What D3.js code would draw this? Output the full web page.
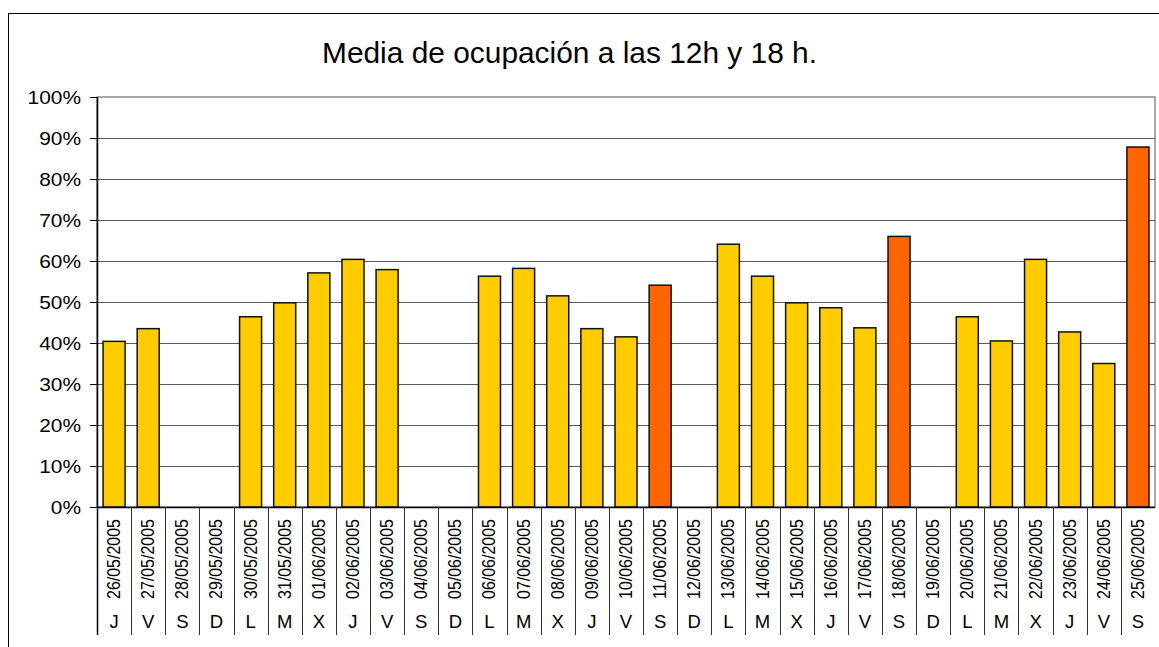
<!DOCTYPE html>
<html>
<head>
<meta charset="utf-8">
<script src="https://cdn.jsdelivr.net/npm/d3@7"></script>
<style>
  body { margin: 0; background: #fff; }
  text { font-family: "Liberation Sans", Arial, sans-serif; fill: #000; }
</style>
</head>
<body>
<div id="chart"></div>
<script>
// data
var dates = ["26/05/2005","27/05/2005","28/05/2005","29/05/2005","30/05/2005","31/05/2005",
             "01/06/2005","02/06/2005","03/06/2005","04/06/2005","05/06/2005","06/06/2005",
             "07/06/2005","08/06/2005","09/06/2005","10/06/2005","11/06/2005","12/06/2005",
             "13/06/2005","14/06/2005","15/06/2005","16/06/2005","17/06/2005","18/06/2005",
             "19/06/2005","20/06/2005","21/06/2005","22/06/2005","23/06/2005","24/06/2005",
             "25/06/2005"];
var days = ["J","V","S","D","L","M","X","J","V","S","D","L","M","X","J","V","S","D",
            "L","M","X","J","V","S","D","L","M","X","J","V","S"];
var ocupacion = [0.404, 0.435, null, null, 0.464, 0.498, 0.571, 0.604, 0.579, null, null,
                 0.563, 0.582, 0.515, 0.435, 0.415, 0.541, null, 0.641, 0.563, 0.498,
                 0.486, 0.437, 0.660, null, 0.464, 0.405, 0.604, 0.427, 0.350, 0.878];
var yTicks = [0, 0.1, 0.2, 0.3, 0.4, 0.5, 0.6, 0.7, 0.8, 0.9, 1];
var title = "Media de ocupación a las 12h y 18 h.";

function init()
{
  var w = 1159;
  var h = 647;

  var left = 97, right = 1155, top = 97, bottom = 507;

  var svg = d3.select("#chart")
              .append("svg")
              .attr("width", w)
              .attr("height", h);

  // outer chart frame (runs off the right and bottom edges)
  svg.append("rect")
      .attr("x", 8.5).attr("y", 13.5)
      .attr("width", 1200).attr("height", 700)
      .attr("fill", "none").attr("stroke", "#000").attr("stroke-width", 1);

  svg.append("text")
      .attr("x", 569.5).attr("y", 63)
      .attr("text-anchor", "middle")
      .attr("font-size", 29)
      .attr("textLength", 495)
      .attr("lengthAdjust", "spacingAndGlyphs")
      .text(title);

  var x = d3.scaleBand()
      .domain(d3.range(dates.length))
      .range([left, right])
      .paddingInner(0.355)
      .paddingOuter(0.1775);

  var cell = d3.scaleBand()
      .domain(d3.range(dates.length))
      .range([left, right]);

  var y = d3.scaleLinear().domain([0, 1]).range([bottom, top]);

  // plot area
  svg.append("rect")
      .attr("x", left).attr("y", top)
      .attr("width", right - left).attr("height", bottom - top)
      .attr("fill", "#fff").attr("stroke", "#8c8c8c").attr("stroke-width", 1.5);

  // gridlines
  svg.selectAll("line.grid")
      .data(yTicks.slice(1, -1))
      .enter()
      .append("line")
      .attr("class", "grid")
      .attr("x1", left).attr("x2", right)
      .attr("y1", function(d){ return Math.round(y(d)) + 0.5; })
      .attr("y2", function(d){ return Math.round(y(d)) + 0.5; })
      .attr("stroke", "#5a5a5a").attr("stroke-width", 1);

  // bars
  var withValue = d3.range(dates.length).filter(function(i){ return ocupacion[i] != null; });
  svg.selectAll("rect.bar")
      .data(withValue)
      .enter()
      .append("rect")
      .attr("class", "bar")
      .attr("x", function(i){ return x(i); })
      .attr("y", function(i){ return y(ocupacion[i]); })
      .attr("width", x.bandwidth())
      .attr("height", function(i){ return y(0) - y(ocupacion[i]); })
      .attr("fill", function(i){
        if(days[i] == "S")
        {
          return "#ff6600";
        }else{
          return "#ffcc00";
        }
      })
      .attr("stroke", "#111").attr("stroke-width", 1.5);

  // y axis
  var yAxis = d3.axisLeft(y)
      .tickValues(yTicks)
      .tickFormat(d3.format(".0%"))
      .tickSize(7)
      .tickPadding(9);

  var ya = svg.append("g")
      .attr("transform", "translate(" + left + ",0)")
      .call(yAxis);
  ya.select(".domain").remove();
  ya.selectAll(".tick line").attr("stroke", "#000");
  ya.selectAll(".tick text")
      .attr("font-size", 19)
      .attr("font-family", "Liberation Sans, Arial, sans-serif")
      .attr("fill", "#000")
      .each(function(){
        var t = d3.select(this);
        t.attr("textLength", this.getComputedTextLength() * 1.1)
         .attr("lengthAdjust", "spacingAndGlyphs");
      });

  svg.append("line")
      .attr("x1", left + 0.5).attr("x2", left + 0.5)
      .attr("y1", top).attr("y2", 635)
      .attr("stroke", "#000").attr("stroke-width", 1.5);

  svg.append("line")
      .attr("x1", left).attr("x2", right)
      .attr("y1", bottom + 0.5).attr("y2", bottom + 0.5)
      .attr("stroke", "#000").attr("stroke-width", 1.5);

  // category separators below the axis
  svg.selectAll("line.sep")
      .data(d3.range(1, dates.length))
      .enter()
      .append("line")
      .attr("class", "sep")
      .attr("x1", function(i){ return Math.round(cell(i)) + 0.5; })
      .attr("x2", function(i){ return Math.round(cell(i)) + 0.5; })
      .attr("y1", bottom).attr("y2", 635)
      .attr("stroke", "#333").attr("stroke-width", 1);

  // date labels, rotated
  svg.selectAll("text.date")
      .data(dates)
      .enter()
      .append("text")
      .attr("class", "date")
      .attr("text-anchor", "middle")
      .attr("font-size", 18)
      .attr("textLength", 80)
      .attr("lengthAdjust", "spacingAndGlyphs")
      .attr("transform", function(d, i){
        return "translate(" + (cell(i) + cell.bandwidth() / 2 + 6) + ",559) rotate(-90)";
      })
      .text(function(d){ return d; });

  // day letters
  svg.selectAll("text.day")
      .data(days)
      .enter()
      .append("text")
      .attr("class", "day")
      .attr("text-anchor", "middle")
      .attr("font-size", 18.5)
      .attr("x", function(d, i){ return cell(i) + cell.bandwidth() / 2; })
      .attr("y", 628)
      .text(function(d){ return d; });
}

window.onload = init;
</script>
</body>
</html>
